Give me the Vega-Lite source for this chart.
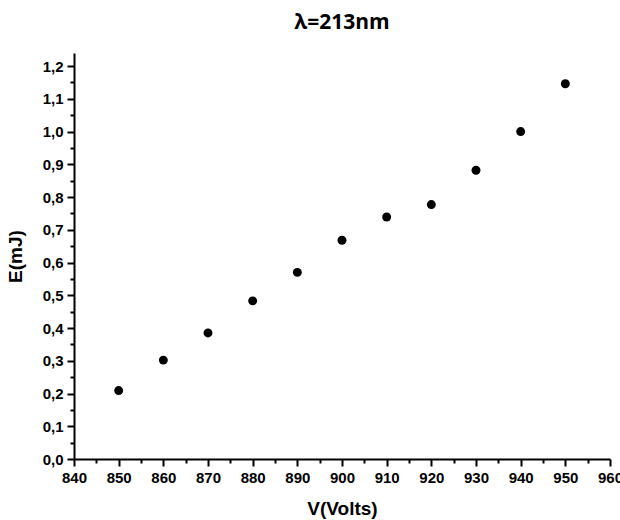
{
  "$schema": "https://vega.github.io/schema/vega-lite/v6.json",
  "autosize": "none",
  "width": 536,
  "height": 406,
  "padding": {"left": 74, "top": 53, "right": 10, "bottom": 61},
  "background": "white",
  "title": {
    "text": "λ=213nm",
    "font": "Open Sans",
    "fontSize": 21,
    "fontWeight": "bold",
    "color": "black",
    "anchor": "middle",
    "frame": "group",
    "baseline": "bottom",
    "offset": -1
  },
  "config": {
    "view": {"stroke": null}
  },
  "data": {
    "values": [
      {"V": 850, "E": 0.209},
      {"V": 860, "E": 0.302},
      {"V": 870, "E": 0.385},
      {"V": 880, "E": 0.483},
      {"V": 890, "E": 0.570},
      {"V": 900, "E": 0.668},
      {"V": 910, "E": 0.739},
      {"V": 920, "E": 0.777},
      {"V": 930, "E": 0.882},
      {"V": 940, "E": 1.0},
      {"V": 950, "E": 1.146}
    ]
  },
  "mark": {"type": "point", "filled": true, "color": "black", "opacity": 1, "size": 80},
  "encoding": {
    "x": {
      "field": "V",
      "type": "quantitative",
      "scale": {"domain": [840, 960], "nice": false, "zero": false},
      "axis": {
        "title": "V(Volts)",
        "titleFont": "Liberation Sans",
        "titleFontSize": 19,
        "titleFontWeight": "bold",
        "titleColor": "black",
        "titlePadding": 14,
        "values": [840,845,850,855,860,865,870,875,880,885,890,895,900,905,910,915,920,925,930,935,940,945,950,955,960],
        "labelExpr": "datum.value % 10 == 0 ? datum.label : ''",
        "format": "d",
        "labelFont": "Liberation Sans",
        "labelFontSize": 15,
        "labelFontWeight": "bold",
        "labelColor": "black",
        "labelPadding": 4,
        "labelFlush": false,
        "labelOverlap": false,
        "grid": false,
        "domainColor": "black",
        "domainWidth": 2,
        "tickColor": "black",
        "tickWidth": 2,
        "tickSize": {"condition": {"test": "datum.value % 10 == 0", "value": 7}, "value": 4}
      }
    },
    "y": {
      "field": "E",
      "type": "quantitative",
      "scale": {"domain": [0, 1.24], "nice": false},
      "axis": {
        "title": "E(mJ)",
        "titleFont": "Liberation Sans",
        "titleFontSize": 19,
        "titleFontWeight": "bold",
        "titleColor": "black",
        "titlePadding": 17,
        "values": [0,0.05,0.1,0.15,0.2,0.25,0.3,0.35,0.4,0.45,0.5,0.55,0.6,0.65,0.7,0.75,0.8,0.85,0.9,0.95,1.0,1.05,1.1,1.15,1.2],
        "labelExpr": "abs(datum.value*10 - round(datum.value*10)) < 0.01 ? replace(format(datum.value, '.1f'), '.', ',') : ''",
        "labelFont": "Liberation Sans",
        "labelFontSize": 15,
        "labelFontWeight": "bold",
        "labelColor": "black",
        "labelPadding": 4,
        "labelFlush": false,
        "labelOverlap": false,
        "grid": false,
        "domainColor": "black",
        "domainWidth": 2,
        "tickColor": "black",
        "tickWidth": 2,
        "tickSize": {"condition": {"test": "abs(datum.value*10 - round(datum.value*10)) < 0.01", "value": 7}, "value": 4}
      }
    }
  }
}
